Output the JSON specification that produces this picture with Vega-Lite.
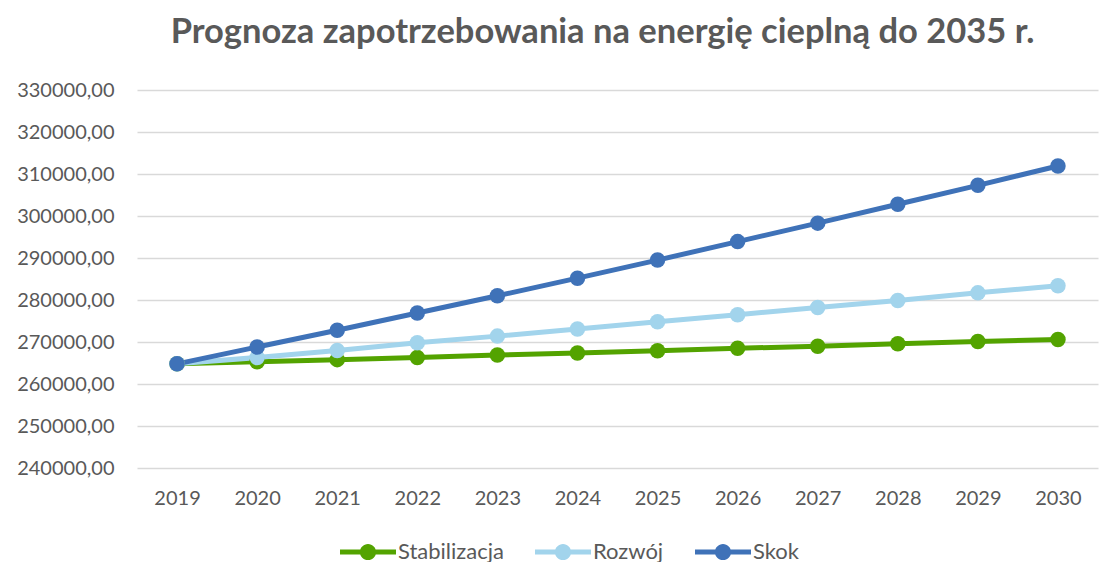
{
  "$schema": "https://vega.github.io/schema/vega-lite/v6.json",
  "width": 961,
  "height": 378,
  "autosize": {"type": "none"},
  "padding": {"left": 137, "top": 90, "right": 1, "bottom": 94},
  "background": "white",
  "title": {
    "text": "Prognoza zapotrzebowania na energię cieplną do 2035 r.",
    "font": "Lato",
    "fontSize": 34.5,
    "fontWeight": "bold",
    "color": "#595959",
    "anchor": "middle",
    "dx": -15,
    "offset": 30
  },
  "config": {
    "view": {"stroke": null},
    "axis": {"labelFont": "Lato", "labelFontSize": 20, "labelColor": "#595959", "titleFont": "Lato"},
    "legend": {"labelFont": "Lato", "labelFontSize": 22, "labelColor": "#595959"}
  },
  "data": {
    "values": [
      {"rok": "2019", "seria": "Stabilizacja", "wartosc": 264800},
      {"rok": "2020", "seria": "Stabilizacja", "wartosc": 265300},
      {"rok": "2021", "seria": "Stabilizacja", "wartosc": 265800},
      {"rok": "2022", "seria": "Stabilizacja", "wartosc": 266300},
      {"rok": "2023", "seria": "Stabilizacja", "wartosc": 266900},
      {"rok": "2024", "seria": "Stabilizacja", "wartosc": 267400},
      {"rok": "2025", "seria": "Stabilizacja", "wartosc": 267900},
      {"rok": "2026", "seria": "Stabilizacja", "wartosc": 268500},
      {"rok": "2027", "seria": "Stabilizacja", "wartosc": 269000},
      {"rok": "2028", "seria": "Stabilizacja", "wartosc": 269600},
      {"rok": "2029", "seria": "Stabilizacja", "wartosc": 270100},
      {"rok": "2030", "seria": "Stabilizacja", "wartosc": 270600},
      {"rok": "2019", "seria": "Rozwój", "wartosc": 264800},
      {"rok": "2020", "seria": "Rozwój", "wartosc": 266300},
      {"rok": "2021", "seria": "Rozwój", "wartosc": 268000},
      {"rok": "2022", "seria": "Rozwój", "wartosc": 269800},
      {"rok": "2023", "seria": "Rozwój", "wartosc": 271400},
      {"rok": "2024", "seria": "Rozwój", "wartosc": 273100},
      {"rok": "2025", "seria": "Rozwój", "wartosc": 274800},
      {"rok": "2026", "seria": "Rozwój", "wartosc": 276500},
      {"rok": "2027", "seria": "Rozwój", "wartosc": 278200},
      {"rok": "2028", "seria": "Rozwój", "wartosc": 279900},
      {"rok": "2029", "seria": "Rozwój", "wartosc": 281700},
      {"rok": "2030", "seria": "Rozwój", "wartosc": 283400},
      {"rok": "2019", "seria": "Skok", "wartosc": 264800},
      {"rok": "2020", "seria": "Skok", "wartosc": 268800},
      {"rok": "2021", "seria": "Skok", "wartosc": 272800},
      {"rok": "2022", "seria": "Skok", "wartosc": 276900},
      {"rok": "2023", "seria": "Skok", "wartosc": 281000},
      {"rok": "2024", "seria": "Skok", "wartosc": 285200},
      {"rok": "2025", "seria": "Skok", "wartosc": 289500},
      {"rok": "2026", "seria": "Skok", "wartosc": 293900},
      {"rok": "2027", "seria": "Skok", "wartosc": 298300},
      {"rok": "2028", "seria": "Skok", "wartosc": 302800},
      {"rok": "2029", "seria": "Skok", "wartosc": 307300},
      {"rok": "2030", "seria": "Skok", "wartosc": 311900}
    ]
  },
  "encoding": {
    "x": {
      "field": "rok",
      "type": "ordinal",
      "scale": {"type": "point", "padding": 0.5},
      "axis": {"title": null, "labelAngle": 0, "domain": false, "ticks": false, "labelPadding": 20, "grid": false}
    },
    "y": {
      "field": "wartosc",
      "type": "quantitative",
      "scale": {"domain": [240000, 330000], "nice": false, "zero": false},
      "axis": {
        "title": null,
        "values": [240000, 250000, 260000, 270000, 280000, 290000, 300000, 310000, 320000, 330000],
        "labelExpr": "replace(format(datum.value, '.2f'), '.', ',')",
        "domain": false,
        "ticks": false,
        "labelPadding": 23,
        "gridColor": "#d9d9d9",
        "gridWidth": 1.3
      }
    },
    "color": {
      "field": "seria",
      "type": "nominal",
      "scale": {"domain": ["Stabilizacja", "Rozwój", "Skok"], "range": ["#53A300", "#A2D4EC", "#3F72B8"]},
      "legend": {
        "title": null,
        "orient": "none",
        "direction": "horizontal",
        "legendX": 203,
        "legendY": 434,
        "symbolType": "M -1 -0.09 L 1 -0.09 L 1 0.09 L -1 0.09 Z M 0.29 0 A 0.29 0.29 0 1 1 -0.29 0 A 0.29 0.29 0 1 1 0.29 0 Z",
        "symbolSize": 3136,
        "symbolStrokeWidth": 0,
        "symbolOpacity": 1,
        "labelOffset": 2,
        "columnPadding": 31
      }
    }
  },
  "layer": [
    {"mark": {"type": "line", "strokeWidth": 5}},
    {"mark": {"type": "point", "filled": true, "size": 240, "opacity": 1}}
  ]
}
